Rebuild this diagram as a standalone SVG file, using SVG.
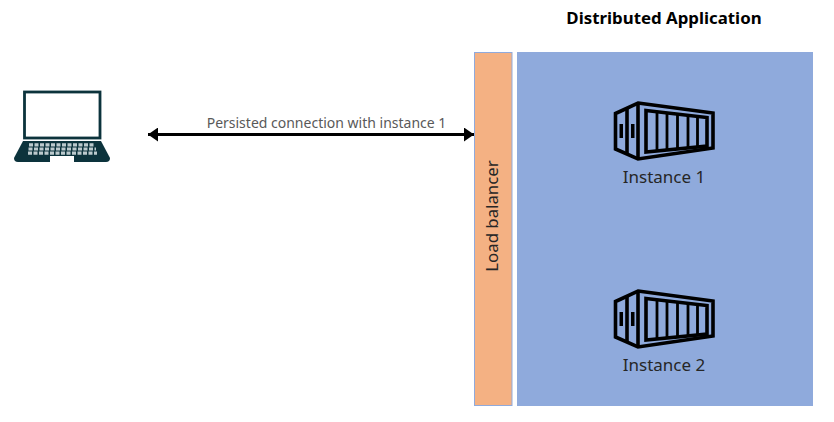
<svg xmlns="http://www.w3.org/2000/svg" width="834" height="422" viewBox="0 0 834 422">
<style>
text{font-family:"Noto Sans","Open Sans",sans-serif;fill:#404040}
.lbl{font-size:17px;text-anchor:middle;fill:#262626}
.ic{fill:none;stroke:#000;stroke-width:3.600;stroke-linejoin:miter}
.thin{fill:none;stroke:#000;stroke-width:2.800}
.key{fill:none;stroke:#bccacd;stroke-width:3.200;stroke-dasharray:4 1.500}
</style>
<defs>
<symbol id="container" overflow="visible">
<path class="ic" d="M638 103L713 113V148L638 159L615.500 149V113.500Z"/>
<path class="ic" d="M627 109V153M638 103V159"/>
<path class="ic" d="M646 110.500L707 117.500V146L646 152Z"/>
<path class="thin" d="M657 112V151M667 113V150M677.500 114.500V149M688 115.500V148M697.500 116.500V147"/>
<rect x="619.500" y="124" width="3.500" height="14" fill="#000"/>
<rect x="631" y="124" width="3.500" height="14" fill="#000"/>
</symbol>
<marker id="ah" markerUnits="userSpaceOnUse" markerWidth="11" markerHeight="14" refX="10" refY="7" orient="auto-start-reverse">
<path d="M0 0L10 7L0 14Z" fill="#000"/>
</marker>
</defs>
<text x="664" y="23.500" font-size="16.850" font-weight="700" text-anchor="middle" style="fill:#000">Distributed Application</text>
<g id="client">
<rect x="24.500" y="92" width="75.500" height="46" fill="#fff" stroke="#0c333c" stroke-width="2.800"/>
<path d="M23 141H101L110 158Q110 162 106 162H18Q14 162 14 158Z" fill="#0c333c"/>
<path class="key" d="M29 144.800H95M28.500 149H96M28 153.200H97"/>
<rect x="50" y="156" width="24" height="6" fill="#fff"/>
</g>
<g id="load-balancer">
<rect x="474.500" y="52.500" width="37.500" height="353" fill="#f4b183" stroke="#8faadc" stroke-width="1"/>
<text transform="translate(498 216) rotate(-90)" font-size="16.800" text-anchor="middle" style="fill:#262626">Load balancer</text>
</g>
<g id="distributed-application">
<rect x="517" y="52" width="296" height="354" fill="#8faadc"/>
</g>
<g id="instance-1">
<use href="#container"/>
<text class="lbl" x="664" y="183">Instance 1</text>
</g>
<g id="instance-2">
<use href="#container" y="188"/>
<text class="lbl" x="664" y="371">Instance 2</text>
</g>
<g id="connectors">
<line x1="148" y1="134.500" x2="474" y2="134.500" stroke="#000" stroke-width="2.800" marker-start="url(#ah)" marker-end="url(#ah)"/>
<text x="326.500" y="127.500" font-size="14px" text-anchor="middle" style="fill:#595959">Persisted connection with instance 1</text>
</g>
</svg>
